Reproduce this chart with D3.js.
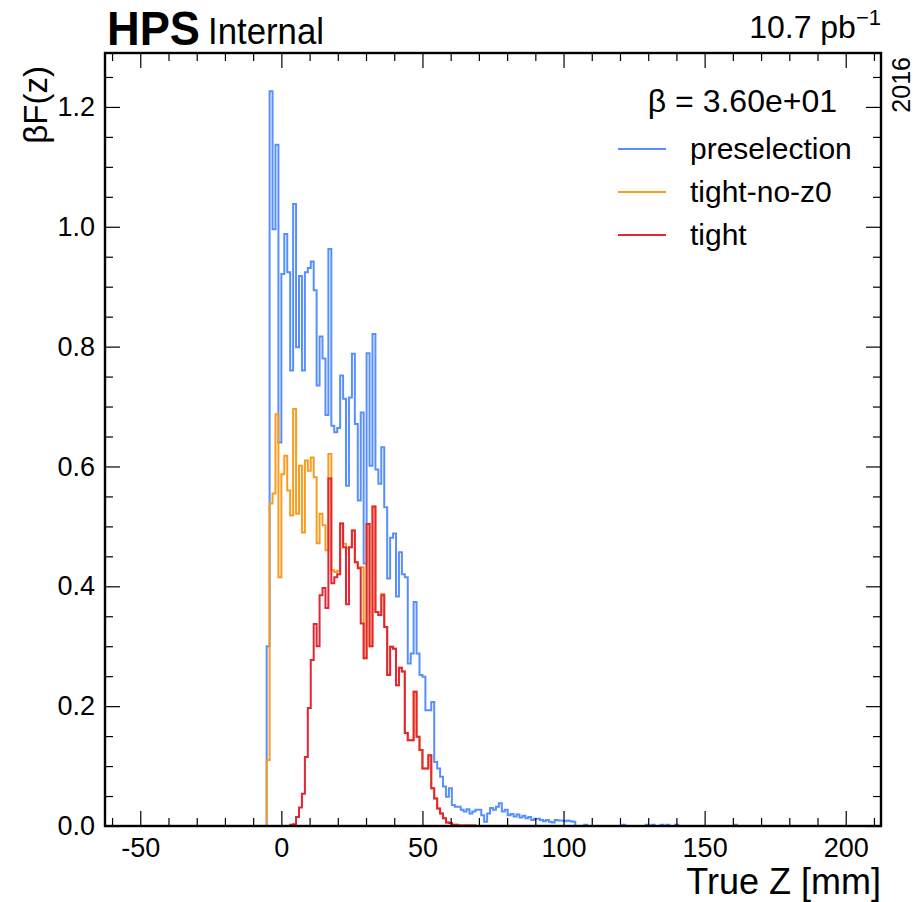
<!DOCTYPE html>
<html>
<head>
<meta charset="utf-8">
<script src="https://cdn.jsdelivr.net/npm/d3@7"></script>
<style>
  body { margin: 0; background: #fff; }
  text { font-family: "Liberation Sans", Arial, sans-serif; fill: #000; }
</style>
</head>
<body>
<svg id="chart" width="915" height="902"></svg>
<script>
// histogram binning (True Z in mm)
const histLo = -50, histHi = 200, nBins = 240;
const firstBin = 43;          // first filled bin of every series
const tightOffset = 8;        // tight starts 8 bins later

// beta*F(z) per bin
const preselection = [
  0.300, 1.226, 0.996, 1.137, 0.640, 0.921, 0.988, 0.924, 0.760, 1.038,
  0.799, 0.918, 0.760, 0.924, 0.931, 0.942, 0.894, 0.735, 0.817, 0.780,
  0.686, 0.963, 0.668, 0.657, 0.664, 0.752, 0.713, 0.568, 0.715, 0.788,
  0.671, 0.543, 0.690, 0.438, 0.789, 0.601, 0.821, 0.595, 0.571, 0.632,
  0.532, 0.413, 0.481, 0.488, 0.383, 0.457, 0.420, 0.415, 0.271, 0.288,
  0.374, 0.288, 0.252, 0.249, 0.193, 0.193, 0.207, 0.107, 0.096, 0.082,
  0.066, 0.049, 0.063, 0.035, 0.032, 0.032, 0.027, 0.024, 0.028, 0.021,
  0.024, 0.027, 0.027, 0.018, 0.007, 0.021, 0.030, 0.027, 0.032, 0.038,
  0.024, 0.027, 0.018, 0.020, 0.016, 0.019, 0.014, 0.017, 0.013, 0.015,
  0.010, 0.012, 0.012, 0.010, 0.008, 0.010, 0.007, 0.006, 0.010, 0.009,
  0.009, 0.008, 0.009, 0.008, 0.007
];
// isolated far-tail bins of preselection: [bin offset, value]
const preselectionTail = [[108, 0.002], [121, 0.002], [129, 0.002], [131, 0.002],
  [134, 0.002], [136, 0.002], [139, 0.002], [159, 0.002]];

const tightNoZ0 = [
  0.110, 0.538, 0.555, 0.687, 0.415, 0.587, 0.618, 0.560, 0.518, 0.696,
  0.521, 0.601, 0.490, 0.610, 0.593, 0.615, 0.582, 0.472, 0.521, 0.502,
  0.460, 0.621, 0.427, 0.424, 0.426, 0.505, 0.471, 0.463, 0.465, 0.493,
  0.440, 0.432, 0.432, 0.280, 0.504, 0.300, 0.533, 0.357, 0.352, 0.387,
  0.332, 0.252, 0.299, 0.296, 0.235, 0.264, 0.258, 0.155, 0.143, 0.143,
  0.224, 0.149, 0.127, 0.096, 0.096, 0.118, 0.063, 0.046, 0.029, 0.021,
  0.013, 0.006, 0.005, 0.002, 0.002, 0.001, 0.001, 0.001, 0.001, 0.001,
  0.001
];

const tight = [
  0.002, 0.003, 0.015, 0.031, 0.054, 0.115, 0.197, 0.277, 0.337, 0.300,
  0.385, 0.397, 0.364, 0.580, 0.405, 0.415, 0.420, 0.505, 0.465, 0.370,
  0.465, 0.493, 0.440, 0.430, 0.338, 0.280, 0.504, 0.300, 0.533, 0.357,
  0.352, 0.385, 0.332, 0.252, 0.299, 0.296, 0.235, 0.264, 0.258, 0.155,
  0.143, 0.143, 0.224, 0.149, 0.127, 0.096, 0.096, 0.118, 0.063, 0.046,
  0.029, 0.021, 0.013, 0.006, 0.005, 0.002, 0.002, 0.001, 0.001, 0.001,
  0.001, 0.001, 0.001
];

const seriesNames = ["preselection", "tight-no-z0", "tight"];
const seriesColors = ["#5790fc", "#f89c20", "#e42536"];
const xTicks = [-50, 0, 50, 100, 150, 200];
const yTicks = [0, 0.2, 0.4, 0.6, 0.8, 1.0, 1.2];

const margin = {left: 105, right: 34, top: 53, bottom: 76};
const W = 915, H = 902;

const svg = d3.select("#chart");

const x = d3.scaleLinear().domain([-62.5, 212.5]).range([margin.left, W - margin.right]);
const y = d3.scaleLinear().domain([0, 1.29]).range([H - margin.bottom, margin.top]);

const binW = (histHi - histLo) / nBins;
const edge = k => histLo + k * binW;

function stepPoints(values, start) {
  let pts = [[edge(start), 0]];
  values.forEach((v, i) => {
    pts.push([edge(start + i), v]);
    pts.push([edge(start + i + 1), v]);
  });
  pts.push([edge(start + values.length), 0]);
  return pts;
}

const line = d3.line().x(d => x(d[0])).y(d => y(d[1]));

const plot = svg.append("g");
plot.append("clipPath").attr("id", "clip")
  .append("rect")
  .attr("x", margin.left).attr("y", margin.top)
  .attr("width", W - margin.left - margin.right)
  .attr("height", H - margin.top - margin.bottom);

const hists = [
  [stepPoints(preselection, firstBin)],
  [stepPoints(tightNoZ0, firstBin)],
  [stepPoints(tight, firstBin + tightOffset)]
];
preselectionTail.forEach(([j, v]) => hists[0].push(stepPoints([v], firstBin + j)));

hists.forEach((parts, i) => {
  parts.forEach(pts => {
    plot.append("path")
      .attr("clip-path", "url(#clip)")
      .attr("d", line(pts))
      .attr("fill", "none")
      .attr("stroke", seriesColors[i])
      .attr("stroke-width", 2)
      .attr("stroke-linejoin", "miter");
  });
});

// axes with inward ticks on all four sides
const xMinor = d3.range(-60, 211, 10).filter(v => !xTicks.includes(v));
const yMinor = d3.range(0, 1.29, 0.05).map(v => +v.toFixed(2)).filter(v => !yTicks.some(t => Math.abs(t - v) < 1e-6));

function tickAxis(axisFn, scale, values, size, pos, labels, pad) {
  const ax = axisFn(scale).tickValues(values).tickSizeInner(-size).tickSizeOuter(0).tickPadding(pad || 12);
  if (!labels) ax.tickFormat("");
  const g = svg.append("g").attr("transform", pos).call(ax);
  g.select(".domain").remove();
  g.selectAll(".tick line").attr("stroke", "#000").attr("stroke-width", 1.2);
  return g;
}
const fmtY = d3.format(".1f");
const bx = tickAxis(d3.axisBottom, x, xTicks, 15, `translate(0,${H - margin.bottom})`, true, 12);
bx.call(g => g.selectAll("text").text(d => d < 0 ? "-" + Math.abs(d) : d));
tickAxis(d3.axisBottom, x, xMinor, 8, `translate(0,${H - margin.bottom})`, false);
tickAxis(d3.axisTop, x, xTicks, 15, `translate(0,${margin.top})`, false);
tickAxis(d3.axisTop, x, xMinor, 8, `translate(0,${margin.top})`, false);
const ly = tickAxis(d3.axisLeft, y, yTicks, 15, `translate(${margin.left},0)`, true, 10);
ly.call(g => g.selectAll("text").text(d => fmtY(d)));
tickAxis(d3.axisLeft, y, yMinor, 8, `translate(${margin.left},0)`, false);
tickAxis(d3.axisRight, y, yTicks, 15, `translate(${W - margin.right},0)`, false);
tickAxis(d3.axisRight, y, yMinor, 8, `translate(${W - margin.right},0)`, false);

svg.selectAll(".tick text").attr("font-size", 27).attr("font-family", "Liberation Sans, Arial, sans-serif").attr("fill", "#000");

// frame
svg.append("rect")
  .attr("x", margin.left).attr("y", margin.top)
  .attr("width", W - margin.left - margin.right)
  .attr("height", H - margin.top - margin.bottom)
  .attr("fill", "none").attr("stroke", "#000").attr("stroke-width", 2.4);

// axis titles
svg.append("text")
  .attr("x", W - margin.right).attr("y", 894)
  .attr("text-anchor", "end").attr("font-size", 36)
  .text("True Z [mm]");

svg.append("text")
  .attr("transform", `translate(47,66) rotate(-90)`)
  .attr("text-anchor", "end").attr("font-size", 33)
  .text("βF(z)");

// header labels
svg.append("text").attr("x", 107).attr("y", 45)
  .attr("font-size", 48).attr("font-weight", "bold")
  .attr("textLength", 93).attr("lengthAdjust", "spacingAndGlyphs")
  .text("HPS");
svg.append("text").attr("x", 208).attr("y", 44)
  .attr("font-size", 37)
  .attr("textLength", 116).attr("lengthAdjust", "spacingAndGlyphs")
  .text("Internal");

const lumi = svg.append("text").attr("x", W - margin.right).attr("y", 38)
  .attr("text-anchor", "end").attr("font-size", 32);
lumi.append("tspan").text("10.7 pb");
lumi.append("tspan").attr("dy", -13).attr("font-size", 22).text("−1");

svg.append("text")
  .attr("transform", `translate(910,${margin.top + 4}) rotate(-90)`)
  .attr("text-anchor", "end").attr("font-size", 25)
  .text("2016");

// legend
svg.append("text").attr("x", 837).attr("y", 112)
  .attr("text-anchor", "end").attr("font-size", 32)
  .text("β = 3.60e+01");

const legend = svg.append("g");
seriesNames.forEach((name, i) => {
  const yy = 149 + i * 43;
  legend.append("line")
    .attr("x1", 618).attr("x2", 666).attr("y1", yy).attr("y2", yy)
    .attr("stroke", seriesColors[i]).attr("stroke-width", 2);
  legend.append("text")
    .attr("x", 690).attr("y", yy + 10)
    .attr("font-size", 30)
    .text(name);
});
</script>
</body>
</html>
